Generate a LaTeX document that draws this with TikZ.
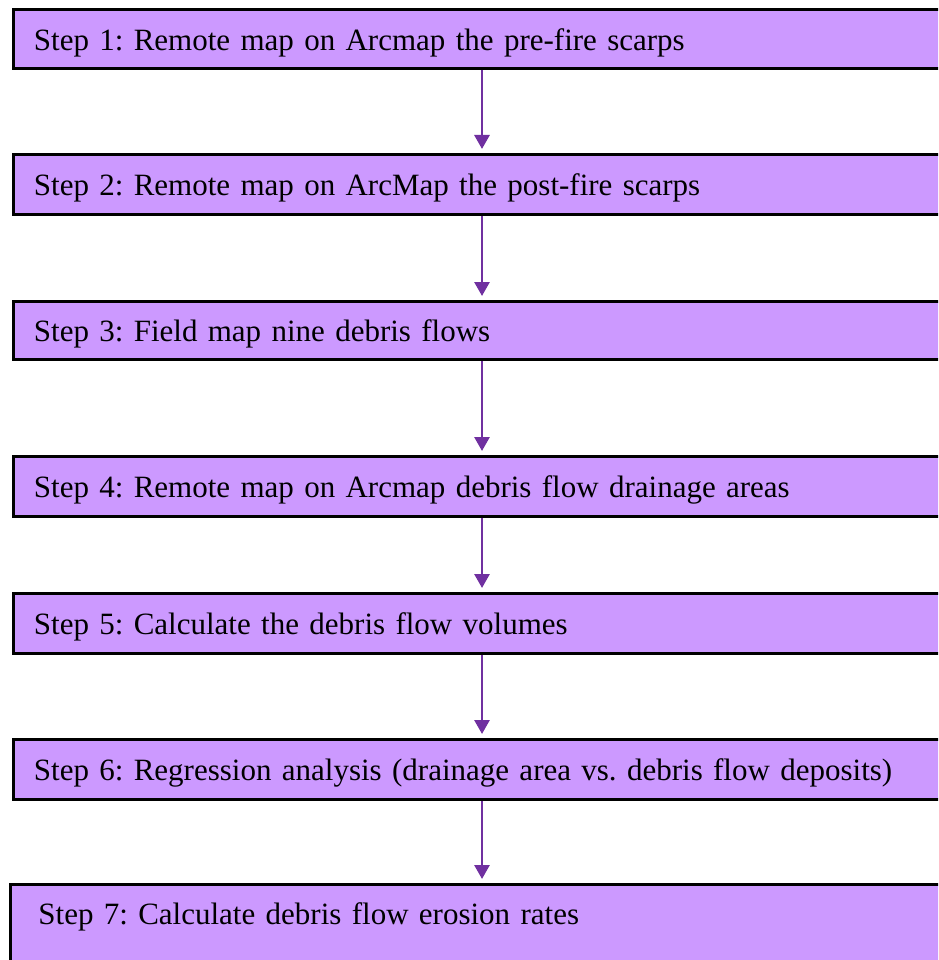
\documentclass[tikz,border=0pt]{standalone}
\usepackage{fontspec}
\setmainfont{Liberation Serif}
\usetikzlibrary{arrows.meta}
\definecolor{boxfill}{HTML}{CC99FF}
\definecolor{arrowcol}{HTML}{7030A0}
\begin{document}
\frenchspacing
\begin{tikzpicture}[x=1pt,y=-1pt,
  stepbox/.style={draw=black, line width=2.8pt, fill=boxfill, anchor=north west,
    inner xsep=20.5pt, inner ysep=0pt, text width=900pt, align=left,
    minimum height=59pt, text height=26.5pt, text depth=3.5pt,
    font=\fontsize{31}{38}\selectfont},
  flow/.style={draw=arrowcol, line width=2.8pt, -{Triangle[width=15pt,length=14pt]}, shorten >=4pt}]
\useasboundingbox (0,0) rectangle (938,960);
\clip (0,0) rectangle (938,960);
\node[stepbox] (b1) at (12,8) {Step 1: Remote map on Arcmap the pre-fire scarps};
\node[stepbox, minimum height=60pt] (b2) at (12,153) {Step 2: Remote map on ArcMap the post-fire scarps};
\node[stepbox, minimum height=58pt] (b3) at (12,300) {Step 3: Field map nine debris flows};
\node[stepbox, minimum height=60pt] (b4) at (12,455) {Step 4: Remote map on Arcmap debris flow drainage areas};
\node[stepbox, minimum height=60pt] (b5) at (12,592) {Step 5: Calculate the debris flow volumes};
\node[stepbox, minimum height=60pt] (b6) at (12,738) {Step 6: Regression analysis (drainage area vs. debris flow deposits)};
\node[stepbox, minimum height=117pt, text depth=62.5pt, inner xsep=28pt] (b7) at (9,883) {Step 7: Calculate debris flow erosion rates};
\coordinate (ax) at (482,0);
\draw[flow] (b1.south -| ax) -- (b2.north -| ax);
\draw[flow] (b2.south -| ax) -- (b3.north -| ax);
\draw[flow] (b3.south -| ax) -- (b4.north -| ax);
\draw[flow] (b4.south -| ax) -- (b5.north -| ax);
\draw[flow] (b5.south -| ax) -- (b6.north -| ax);
\draw[flow] (b6.south -| ax) -- (b7.north -| ax);
\end{tikzpicture}
\end{document}
